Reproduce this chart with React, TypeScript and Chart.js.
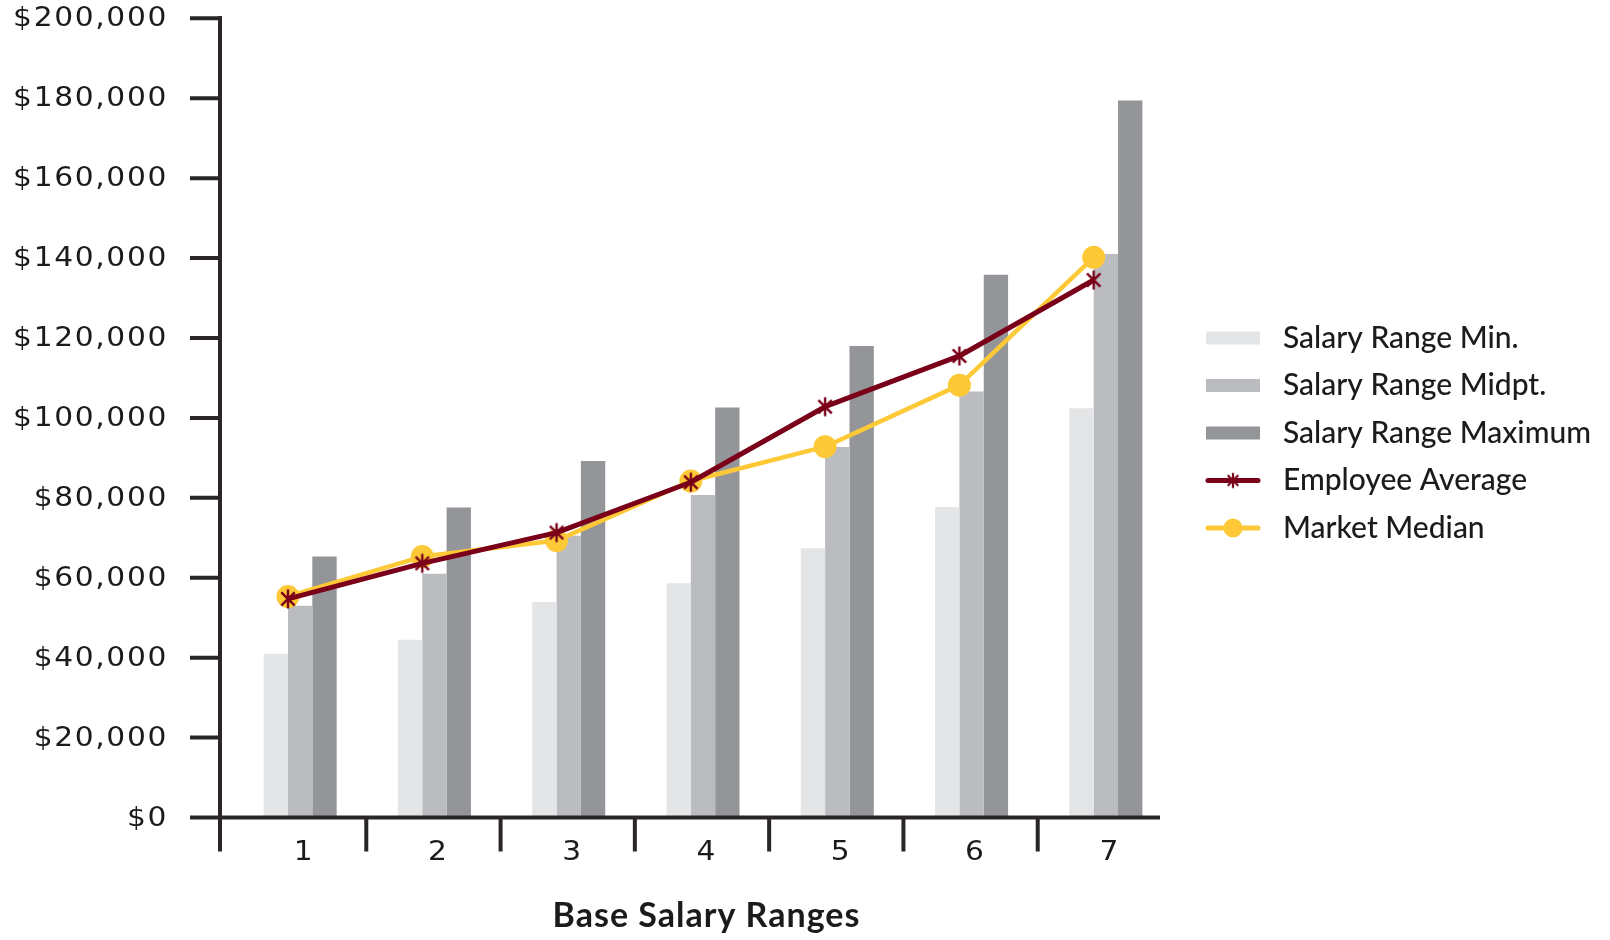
import React, { useEffect, useRef } from "react";
import { Chart, registerables } from "chart.js";

Chart.register(...registerables);

// Salary grades along the x axis
const CATEGORIES = ["1", "2", "3", "4", "5", "6", "7"];

// Salary range bars per grade
const SALARY_MIN = [41000, 44500, 53900, 58600, 67400, 77700, 102400];
const SALARY_MID = [53000, 61000, 70500, 80700, 92700, 106600, 141000];
const SALARY_MAX = [65300, 77600, 89200, 102600, 118000, 135800, 179400];

// Comparison lines per grade
const EMPLOYEE_AVG = [54700, 63600, 71300, 83900, 102800, 115500, 134500];
const MARKET_MEDIAN = [55300, 65300, 69300, 84200, 92800, 108200, 140200];

// Value axis ticks
const Y_TICKS = [0, 20000, 40000, 60000, 80000, 100000, 120000, 140000, 160000, 180000, 200000];

const X_TITLE = "Base Salary Ranges";

const FONT = "Lato, 'Noto Sans', sans-serif";
const NUM_FONT = "'DejaVu Sans', Lato, sans-serif";
const INK = "#1c1a1b";
const AXIS_INK = "#2a2627";
const C_MIN = "#e4e5e6";
const C_MID = "#bbbcbf";
const C_MAX = "#939598";
const C_EMP = "#7a0019";
const C_MKT = "#fdc936";

const CATEGORY_PCT = 0.544;
// Line points sit on the left edge of the midpoint bar of each group
const LINE_SHIFT = CATEGORY_PCT / 6;
const AXIS_INSET = 13;
// Numerals are drawn slightly wide
const NUM_STRETCH = 1.1;

function makeAsterisk(color: string, size: number, width: number): HTMLCanvasElement {
  const c = document.createElement("canvas");
  c.width = size;
  c.height = size;
  const g = c.getContext("2d")!;
  const m = size / 2;
  const r = size / 2 - 1.5;
  g.strokeStyle = color;
  g.lineWidth = width;
  g.beginPath();
  g.moveTo(m, m - r);
  g.lineTo(m, m + r);
  const d = r * Math.SQRT1_2;
  g.moveTo(m - d, m - d);
  g.lineTo(m + d, m + d);
  g.moveTo(m - d, m + d);
  g.lineTo(m + d, m - d);
  g.stroke();
  return c;
}

const fmtMoney = (v: number) => "$" + v.toLocaleString("en-US");
const gradeX = (i: number) => i + 1;

function wideText(ctx: CanvasRenderingContext2D, text: string, x: number, y: number) {
  ctx.save();
  ctx.translate(x, y);
  ctx.scale(NUM_STRETCH, 1);
  ctx.fillText(text, 0, 0);
  ctx.restore();
}

export default function App() {
  const ref = useRef<HTMLCanvasElement | null>(null);

  useEffect(() => {
    document.body.style.margin = "0";
    const canvas = ref.current;
    if (!canvas) return;

    const star = makeAsterisk(C_EMP, 22, 2.4);
    const legendStar = makeAsterisk(C_EMP, 18, 2.2);

    const axesPlugin = {
      id: "salaryAxes",
      afterDraw(chart: any) {
        const { ctx, chartArea } = chart;
        const xs = chart.scales.x;
        const ys = chart.scales.y;
        const axisX = chartArea.left - AXIS_INSET;
        const axisEnd = chartArea.right - AXIS_INSET;
        const y0 = ys.getPixelForValue(0);
        const yTop = ys.getPixelForValue(Y_TICKS[Y_TICKS.length - 1]);
        const tickBottom = y0 + 34;

        ctx.save();
        ctx.strokeStyle = AXIS_INK;
        ctx.lineWidth = 4;
        ctx.lineCap = "butt";

        // value axis
        ctx.beginPath();
        ctx.moveTo(axisX, yTop - 2);
        ctx.lineTo(axisX, tickBottom);
        ctx.stroke();

        // value ticks
        ctx.beginPath();
        for (const v of Y_TICKS) {
          const py = ys.getPixelForValue(v);
          ctx.moveTo(axisX - 30, py);
          ctx.lineTo(axisX + (v === Y_TICKS[Y_TICKS.length - 1] ? 2 : 0), py);
        }
        ctx.stroke();

        // category axis
        ctx.beginPath();
        ctx.moveTo(axisX, y0);
        ctx.lineTo(axisEnd, y0);
        ctx.stroke();

        // boundaries between grades
        ctx.beginPath();
        for (let i = 1; i < CATEGORIES.length; i++) {
          const bx = xs.getPixelForValue(gradeX(i) - 0.5) - 1;
          ctx.moveTo(bx, y0);
          ctx.lineTo(bx, tickBottom);
        }
        ctx.stroke();

        // value tick labels
        ctx.fillStyle = INK;
        ctx.font = `27px ${NUM_FONT}`;
        ctx.textAlign = "right";
        ctx.textBaseline = "middle";
        (ctx as any).letterSpacing = "1.5px";
        for (const v of Y_TICKS) {
          wideText(ctx, fmtMoney(v), axisX - 52, ys.getPixelForValue(v) + 1);
        }

        // grade labels
        ctx.textAlign = "center";
        (ctx as any).letterSpacing = "0px";
        ctx.font = `27px ${NUM_FONT}`;
        CATEGORIES.forEach((c, i) => {
          wideText(ctx, c, xs.getPixelForValue(gradeX(i)) + 3, y0 + 35);
        });

        // axis title
        ctx.font = `bold 34px ${FONT}`;
        ctx.textBaseline = "alphabetic";
        (ctx as any).letterSpacing = "1px";
        ctx.fillText(X_TITLE, (chartArea.left + chartArea.right) / 2 + 3.5, 927);
        (ctx as any).letterSpacing = "0px";

        // legend
        const lx = 1206;
        const lw = 54;
        const tx = 1283;
        const rowY = 338;
        const rowGap = 47.5;
        ctx.font = `500 30px ${FONT}`;
        ctx.textAlign = "left";
        ctx.textBaseline = "middle";
        chart.data.datasets.forEach((ds: any, i: number) => {
          const cy = rowY + i * rowGap;
          if (ds.type === "line") {
            ctx.strokeStyle = ds.borderColor;
            ctx.lineWidth = 5;
            ctx.lineCap = "round";
            ctx.beginPath();
            ctx.moveTo(lx + 2, cy);
            ctx.lineTo(lx + lw - 2, cy);
            ctx.stroke();
            if (ds.pointStyle === "circle") {
              ctx.fillStyle = ds.pointBackgroundColor;
              ctx.beginPath();
              ctx.arc(lx + lw / 2, cy, 9.5, 0, Math.PI * 2);
              ctx.fill();
            } else {
              ctx.drawImage(legendStar, lx + lw / 2 - 9, cy - 9);
            }
          } else {
            ctx.fillStyle = ds.backgroundColor;
            ctx.fillRect(lx, cy - 6.5, lw, 13);
          }
          ctx.fillStyle = INK;
          ctx.fillText(ds.label, tx, cy);
        });
        ctx.restore();
      },
    };

    const barPoints = (vals: number[]) => vals.map((v, i) => ({ x: gradeX(i), y: v }));
    const linePoints = (vals: number[]) => vals.map((v, i) => ({ x: gradeX(i) - LINE_SHIFT, y: v }));

    const chart = new Chart(canvas, {
      type: "bar",
      data: {
        datasets: [
          {
            type: "bar",
            label: "Salary Range Min.",
            data: barPoints(SALARY_MIN),
            backgroundColor: C_MIN,
            order: 3,
          },
          {
            type: "bar",
            label: "Salary Range Midpt.",
            data: barPoints(SALARY_MID),
            backgroundColor: C_MID,
            order: 3,
          },
          {
            type: "bar",
            label: "Salary Range Maximum",
            data: barPoints(SALARY_MAX),
            backgroundColor: C_MAX,
            order: 3,
          },
          {
            type: "line",
            label: "Employee Average",
            data: linePoints(EMPLOYEE_AVG),
            borderColor: C_EMP,
            borderWidth: 5,
            pointStyle: star as any,
            pointRadius: 10,
            pointBackgroundColor: C_EMP,
            tension: 0,
            borderJoinStyle: "round",
            order: 1,
          },
          {
            type: "line",
            label: "Market Median",
            data: linePoints(MARKET_MEDIAN),
            borderColor: C_MKT,
            borderWidth: 4.5,
            pointStyle: "circle",
            pointRadius: 11.5,
            pointBorderWidth: 0,
            pointBackgroundColor: C_MKT,
            tension: 0,
            borderJoinStyle: "round",
            order: 2,
          },
        ] as any,
      },
      options: {
        responsive: false,
        animation: false,
        devicePixelRatio: 1,
        layout: { padding: { left: 233, right: 437, top: 18.3, bottom: 122.5 } },
        datasets: {
          bar: { categoryPercentage: CATEGORY_PCT, barPercentage: 1 },
        },
        scales: {
          x: {
            type: "linear",
            display: false,
            offset: false,
            min: 0.5,
            max: CATEGORIES.length + 0.5,
            ticks: { stepSize: 1, includeBounds: false },
            grid: { display: false, offset: false },
          },
          y: { type: "linear", display: false, min: 0, max: Y_TICKS[Y_TICKS.length - 1] },
        },
        plugins: {
          legend: { display: false },
          tooltip: { enabled: false },
        },
      } as any,
      plugins: [axesPlugin],
    });

    return () => chart.destroy();
  }, []);

  return (
    <div style={{ width: 1610, height: 940, background: "#ffffff" }}>
      <canvas ref={ref} width={1610} height={940} style={{ display: "block" }} />
    </div>
  );
}
